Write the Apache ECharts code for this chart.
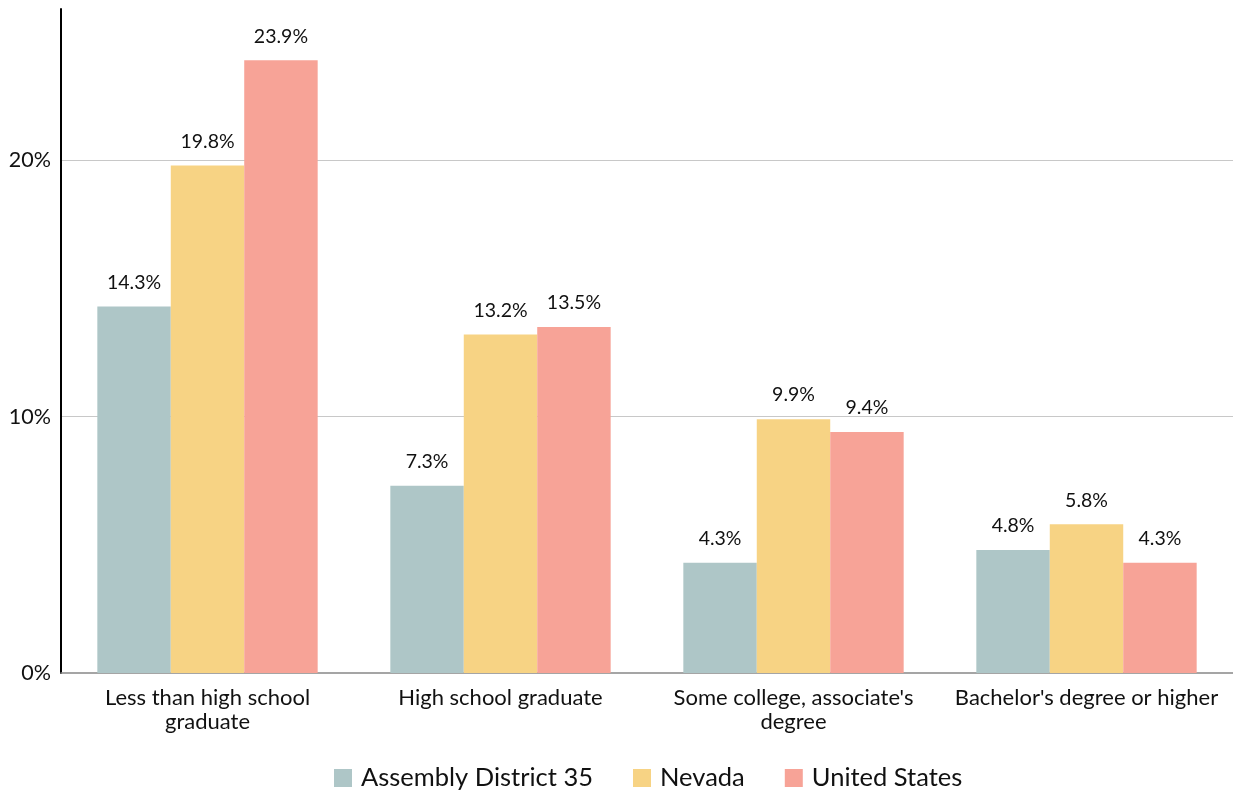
<!DOCTYPE html>
<html>
<head>
<meta charset="utf-8">
<script src="https://cdn.jsdelivr.net/npm/echarts@6/dist/echarts.min.js"></script>
<style>
html,body{margin:0;padding:0;background:#fff;}
#chart{width:1233px;height:791px;}
</style>
</head>
<body>
<div id="chart"></div>
<script>
const categories = ["Less than high school\ngraduate", "High school graduate", "Some college, associate's\ndegree", "Bachelor's degree or higher"];
const seriesNames = ["Assembly District 35", "Nevada", "United States"];
const district35 = [14.3, 7.3, 4.3, 4.8];
const nevada = [19.8, 13.2, 9.9, 5.8];
const unitedStates = [23.9, 13.5, 9.4, 4.3];
const colors = ["#AEC6C7", "#F7D384", "#F7A397"];
const FONT = "Lato";

const chart = echarts.init(document.getElementById('chart'));
const values = [district35, nevada, unitedStates];
chart.setOption({
  animation: false,
  textStyle: {fontFamily: FONT},
  grid: {left: 61, right: 0, top: 9, bottom: 118, containLabel: false},
  legend: {
    top: 760,
    left: 329,
    itemWidth: 18, itemHeight: 18, itemGap: 40,
    icon: 'rect',
    textStyle: {fontFamily: FONT, fontSize: 25.5, color: '#111', padding: [0,0,0,4]},
    data: seriesNames
  },
  xAxis: {
    type: 'category',
    data: categories,
    axisLine: {lineStyle: {color: '#888', width: 1.5}},
    axisTick: {show: false},
    axisLabel: {fontFamily: FONT, fontSize: 22, color: '#111', margin: 13, lineHeight: 24, interval: 0}
  },
  yAxis: {
    type: 'value',
    min: 0, max: 25.9, interval: 10,
    axisLine: {show: true, lineStyle: {color: '#000', width: 2}},
    axisTick: {show: false},
    axisLabel: {fontFamily: FONT, fontSize: 21.5, color: '#111', margin: 10, showMaxLabel: false,
      formatter: v => (v % 10 === 0 ? v + '%' : '')},
    splitLine: {show: true, showMinLine: false, showMaxLine: false, lineStyle: {color: '#c8c8c8', width: 1}}
  },
  series: seriesNames.map((name, i) => ({
    name: name,
    type: 'bar',
    data: values[i],
    barGap: '0%',
    barCategoryGap: '24.8%',
    itemStyle: {color: colors[i]},
    label: {show: true, position: 'top', distance: 14, fontFamily: FONT, fontSize: 19.5, color: '#111',
      formatter: p => p.value.toFixed(1) + '%'}
  }))
});
</script>
</body>
</html>
